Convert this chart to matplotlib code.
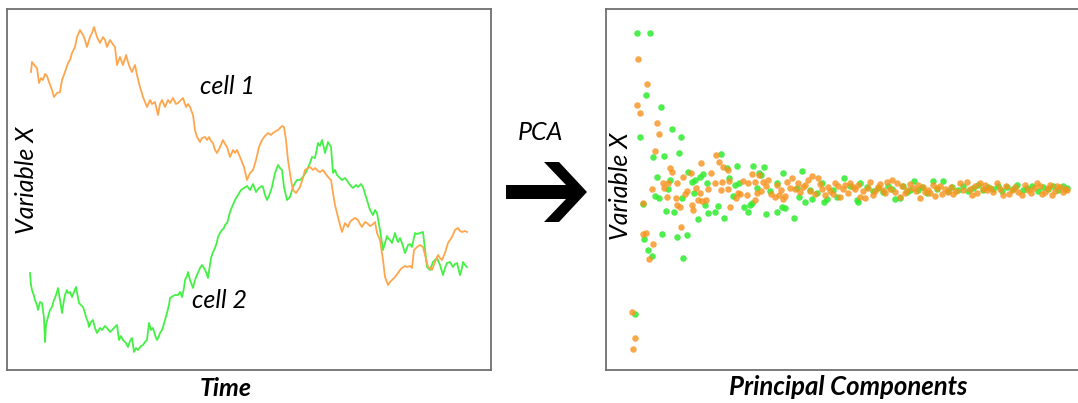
import numpy as np
import matplotlib.pyplot as plt
from matplotlib.patches import Polygon

plt.rcParams['font.family'] = ['Lato', 'DejaVu Sans']

# ---- time traces of the two cells ----
cell1_t = [24, 25, 28, 30, 32, 34, 36, 38, 40, 42, 45, 47, 50, 53, 55, 58, 61, 63, 65, 68,
           70, 73, 76, 78, 80, 83, 85, 87, 90, 93, 96, 98, 100, 103, 105, 108, 110, 113, 116, 119,
           121, 123, 125, 128, 130, 133, 136, 138, 140, 143, 145, 148, 151, 153, 155, 158, 161, 163, 166, 169,
           171, 174, 176, 179, 181, 183, 186, 188, 190, 193, 195, 198, 200, 202, 204, 206, 208, 210, 213, 216,
           218, 220, 223, 226, 228, 230, 233, 235, 237, 240, 243, 246, 249, 252, 255, 258, 261, 264, 266, 269,
           271, 275, 277, 279, 281, 284, 286, 289, 291, 293, 296, 298, 301, 303, 306, 308, 311, 313, 316, 318,
           321, 324, 326, 328, 331, 333, 335, 338, 341, 343, 345, 348, 351, 353, 355, 358, 360, 363, 365, 368,
           370, 373, 376, 378, 381, 383, 385, 388, 391, 393, 395, 398, 400, 403, 405, 407, 410, 413, 416, 418,
           421, 423, 425, 428, 431, 433, 435, 438, 441, 443, 445, 448, 451, 453, 455, 458, 460]
cell1_x = [298, 308, 304, 302, 287, 292, 290, 296, 294, 288, 280, 273, 277, 278, 290, 298, 307, 310, 317, 323,
           333, 340, 335, 330, 323, 333, 337, 343, 333, 327, 333, 330, 323, 330, 327, 323, 305, 313, 305, 315,
           308, 302, 298, 305, 295, 283, 273, 268, 263, 270, 266, 268, 255, 266, 270, 263, 270, 267, 272, 266,
           267, 270, 272, 263, 266, 263, 255, 240, 233, 228, 232, 233, 230, 233, 229, 227, 220, 217, 223, 230,
           226, 223, 213, 220, 217, 220, 213, 208, 203, 190, 197, 200, 210, 223, 230, 234, 237, 235, 237, 239,
           240, 244, 243, 230, 210, 190, 180, 177, 180, 183, 192, 200, 202, 203, 200, 202, 199, 198, 200, 197,
           193, 190, 177, 165, 153, 145, 138, 147, 143, 148, 150, 152, 150, 146, 143, 148, 147, 144, 145, 148,
           137, 130, 110, 93, 85, 88, 90, 93, 97, 100, 102, 104, 103, 104, 102, 120, 123, 125, 123, 115,
           103, 102, 100, 108, 115, 112, 110, 117, 127, 130, 133, 140, 142, 139, 138, 139, 138]

cell2_t = [23, 24, 25, 27, 28, 30, 31, 33, 35, 37, 38, 39, 41, 43, 45, 47, 48, 50, 51, 53,
           55, 57, 58, 60, 61, 63, 65, 67, 69, 71, 72, 74, 76, 78, 79, 81, 82, 84, 86, 88,
           90, 93, 95, 98, 100, 103, 105, 108, 110, 112, 114, 116, 119, 121, 123, 125, 127, 129, 131, 134,
           136, 138, 140, 142, 144, 146, 148, 150, 152, 153, 155, 156, 158, 160, 162, 163, 166, 168, 171, 173,
           175, 177, 178, 180, 181, 183, 186, 188, 190, 193, 195, 197, 199, 201, 203, 204, 206, 208, 210, 211,
           213, 215, 217, 218, 220, 221, 223, 225, 228, 231, 234, 237, 240, 243, 246, 249, 252, 255, 256, 258,
           260, 262, 265, 268, 271, 273, 275, 277, 280, 283, 286, 288, 290, 293, 295, 298, 300, 303, 305, 308,
           311, 313, 315, 317, 318, 321, 324, 325, 326, 328, 330, 333, 335, 338, 341, 343, 346, 349, 351, 354,
           356, 359, 360, 363, 366, 368, 370, 373, 376, 378, 380, 381, 383, 385, 388, 390, 391, 393, 395, 398,
           400, 401, 403, 405, 408, 410, 413, 416, 418, 420, 423, 426, 430, 433, 436, 438, 440, 443, 446, 448,
           450, 453, 455, 456, 458, 460]
cell2_x = [97, 85, 80, 74, 70, 65, 60, 68, 67, 52, 28, 45, 53, 60, 63, 70, 72, 78, 82, 70,
           57, 70, 75, 80, 77, 78, 73, 78, 83, 72, 67, 65, 63, 57, 53, 48, 43, 48, 50, 42,
           37, 42, 40, 44, 42, 38, 40, 43, 45, 30, 34, 30, 27, 23, 29, 32, 18, 22, 20, 24,
           25, 28, 30, 47, 40, 42, 35, 30, 34, 37, 40, 43, 50, 57, 65, 72, 74, 75, 75, 78,
           73, 82, 90, 94, 98, 90, 82, 90, 95, 102, 105, 102, 98, 92, 105, 112, 118, 122, 128, 133,
           137, 140, 142, 145, 147, 150, 158, 163, 170, 175, 180, 182, 184, 180, 186, 178, 182, 184, 183, 175,
           170, 174, 183, 197, 205, 202, 200, 183, 170, 173, 183, 187, 190, 190, 192, 196, 200, 207, 213, 212,
           227, 224, 230, 222, 217, 228, 223, 210, 197, 200, 195, 192, 190, 192, 188, 185, 182, 185, 183, 186,
           183, 173, 170, 160, 155, 160, 157, 140, 120, 127, 134, 132, 130, 127, 137, 130, 128, 132, 127, 117,
           122, 125, 126, 123, 137, 136, 137, 138, 120, 103, 100, 108, 112, 105, 95, 102, 107, 108, 103, 106,
           107, 95, 102, 108, 105, 103]

# ---- principal component coefficients ----
pc1_comp = [2, 3, 5, 7, 8, 10, 13, 13, 16, 17, 19, 22, 23, 25, 27, 29, 33, 34, 37, 38,
            40, 42, 46, 47, 47, 50, 51, 53, 55, 57, 61, 62, 63, 66, 68, 70, 71, 72, 76, 78,
            81, 85, 86, 89, 91, 92, 93, 98, 98, 99, 100, 106, 108, 110, 113, 117, 118, 122, 125, 125,
            127, 129, 133, 138, 145, 149, 153, 157, 162, 165, 168, 173, 178, 182, 188, 192, 195, 198, 205, 210,
            213, 220, 225, 230, 235, 240, 243, 248, 253, 257, 262, 267, 270, 277, 283, 290, 295, 300, 307, 312,
            318, 323, 330, 337, 342, 350, 357, 367, 373, 382, 392, 398, 407, 415, 422, 430, 437,
            131, 136, 141, 147, 151, 155, 160, 170, 175, 180, 185, 190, 200, 203, 208, 215, 218, 223, 228, 233,
            238, 245, 250, 255, 260, 265, 272, 275, 280, 286, 288, 293, 298, 303, 305, 310, 315, 321, 326, 333,
            340, 345, 347, 353, 355, 360, 363, 370, 376, 379, 385, 388, 395, 401, 404, 410, 412, 418, 420, 425,
            427, 433, 435]
pc1_val = [-124, -161, -150, 83, 129, 75, -46, -15, -45, 104, -71, -1, -56, 37, 65, 54, 5, 0, -9, 5,
           20, 16, -10, -17, 5, -19, -39, 11, -6, -3, 15, -17, -22, 0, -12, -5, 25, -13, -12, -1,
           15, 5, 33, 26, -2, 6, 21, -1, 18, 7, -19, -10, -5, -6, 7, -7, 5, 14, -12, 6,
           -5, 13, 6, 8, -9, -7, -11, 6, 10, -1, 5, 1, 8, 12, 10, -1, -7, 1, 5, -9,
           -1, 5, -1, -9, -10, 6, -7, 1, -2, 6, 8, 5, -9, -2, 0, -10, -4, -5, 0, -6,
           -4, -6, 5, 6, -7, 5, -2, 5, -7, -2, -7, -2, 5, -4, -7, 1, -2,
           -3, 2, -6, 3, -2, -8, 0, -4, 3, -3, -6, 4, -3, -6, 2, 3, -5, 1, 3, -3,
           0, -3, 4, -5, -1, -4, 2, -5, 4, -3, 3, 1, -2, 3, -8, 2, -1, 1, -3, -2,
           -1, 2, -5, -1, 3, 0, -4, -1, 2, -6, 1, -4, 3, -5, 0, 2, -6, 0, 3, -3,
           2, -4, -1]

pc2_comp = [5, 7, 10, 13, 14, 16, 18, 20, 22, 23, 25, 27, 29, 31, 32, 34, 36, 38, 40, 42,
            44, 47, 49, 51, 52, 53, 57, 58, 62, 64, 65, 68, 70, 73, 75, 77, 78, 85, 88, 91,
            94, 97, 99, 103, 105, 107, 109, 114, 118, 120, 122, 123, 127, 129, 131, 134, 136, 140, 147, 147,
            152, 153, 155, 164, 167, 169, 172, 175, 180, 182, 187, 192, 194, 197, 203, 207, 214, 220, 227, 228,
            230, 237, 265, 270, 273, 280, 284, 303, 313, 433,
            243, 248, 253, 258, 262, 277, 288, 292, 297, 307, 318, 322, 328, 333, 338, 343, 348, 353, 358, 363,
            368, 372, 377, 383, 387, 393, 397, 402, 408, 413, 418, 423, 428, 437]
pc2_val = [-126, 155, 51, -16, -51, 93, -62, 155, -68, 31, -8, 11, -10, 81, -46, 32, -23, -1, 8, 59,
           -24, -49, 35, 51, -10, -70, -47, 16, 6, -5, 8, -31, 11, 14, -17, 5, -25, -24, -18, 34,
           -30, 20, 10, -8, 3, 22, 5, -19, -24, -17, -15, 22, 0, 15, 13, 21, -26, -3, 5, -24,
           -19, 15, -20, -30, 0, -9, 17, -14, -2, -11, -5, 5, -14, -11, -2, -9, 10, 2, -12, -14,
           5, 1, -11, -10, 2, -2, 7, 7, 7, 2,
           -3, 0, -4, 2, -1, -4, -2, 1, -5, -1, -3, 1, -2, 2, -3, 0, 3, -2, 1, -1,
           2, -3, 1, -1, 3, -2, 0, 2, -3, 1, -1, 2, -2, 0]

W, H = 1078, 403
fig = plt.figure(figsize=(W / 100, H / 100), dpi=100)


def box(x0, y0, x1, y1):
    return [x0 / W, 1 - y1 / H, (x1 - x0) / W, (y1 - y0) / H]


orange_line = '#FFA64D'
green_line = '#45F045'
orange_dot = '#F7931E'
green_dot = '#2EEB2E'
spine_col = '#707070'

# left panel: raw traces
ax1 = fig.add_axes(box(7, 9, 491, 370))
ax1.plot(cell2_t, cell2_x, color=green_line, lw=1.3)
ax1.plot(cell1_t, cell1_x, color=orange_line, lw=1.3)
ax1.set_xlim(0, 484)
ax1.set_ylim(0, 361)

# right panel: PCA coefficients
ax2 = fig.add_axes(box(606, 9, 1095, 370))
ax2.scatter(pc2_comp, pc2_val, s=22, color=green_dot, alpha=0.85, lw=0)
ax2.scatter(pc1_comp, pc1_val, s=22, color=orange_dot, alpha=0.8, lw=0)
ax2.set_xlim(-24, 465)
ax2.set_ylim(-182, 179)

for ax in (ax1, ax2):
    ax.set_xticks([])
    ax.set_yticks([])
    for s in ax.spines.values():
        s.set_color(spine_col)
        s.set_linewidth(1.3)

fs = 18
fig.text(27 / W, 1 - 180 / H, 'Variable X', rotation=90, ha='center', va='center',
         fontsize=fs, style='italic')
fig.text(620 / W, 1 - 186 / H, 'Variable X', rotation=90, ha='center', va='center',
         fontsize=fs, style='italic')
fig.text(228 / W, 1 - 86 / H, 'cell 1', ha='center', va='center', fontsize=fs, style='italic')
fig.text(220 / W, 1 - 300 / H, 'cell 2', ha='center', va='center', fontsize=fs, style='italic')
fig.text(226 / W, 1 - 388 / H, 'Time', ha='center', va='center', fontsize=fs,
         style='italic', weight='bold')
fig.text(848 / W, 1 - 387 / H, 'Principal Components', ha='center', va='center',
         fontsize=18.5, style='italic', weight='bold')
fig.text(540 / W, 1 - 133 / H, 'PCA', ha='center', va='center', fontsize=fs, style='italic')

# the big arrow between the panels
arrow_px = [(506, 185), (566, 185), (544, 162), (559, 162), (587, 192),
            (559, 222), (544, 222), (566, 199), (506, 199)]
fig.patches.append(Polygon([(x / W, 1 - y / H) for x, y in arrow_px], closed=True,
                           transform=fig.transFigure, color='black', lw=0))

fig.savefig('out.png', dpi=100)
